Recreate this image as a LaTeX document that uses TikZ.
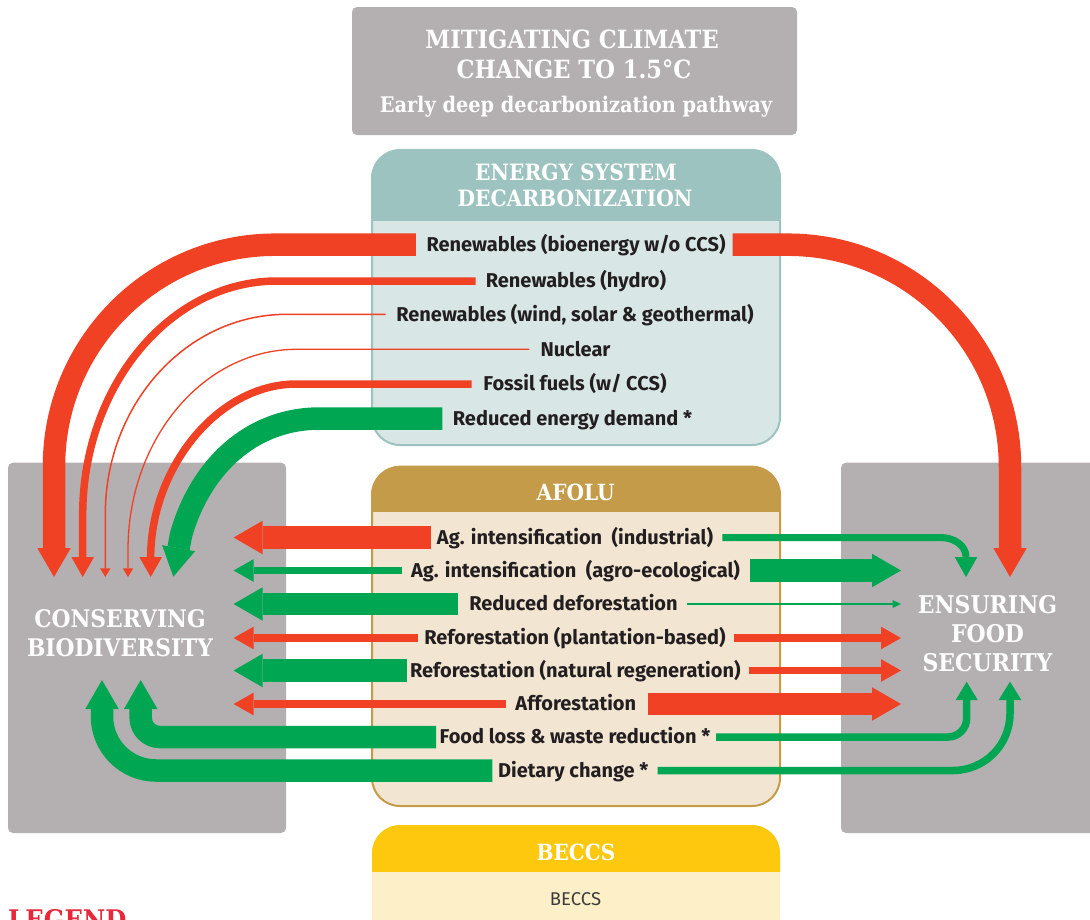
\documentclass[tikz,border=0pt]{standalone}
\usepackage{fontspec}
\usetikzlibrary{arrows.meta}
\newfontfamily\hdfont[FakeStretch=0.9]{DejaVu Serif}
\newfontfamily\lblfont{Fira Sans}
\definecolor{redc}{RGB}{240,65,36}
\definecolor{greenc}{RGB}{0,166,81}
\definecolor{grayc}{RGB}{180,176,177}
\definecolor{tealh}{RGB}{156,195,191}
\definecolor{tealb}{RGB}{216,230,229}
\definecolor{goldh}{RGB}{196,155,72}
\definecolor{goldb}{RGB}{242,230,211}
\definecolor{yelh}{RGB}{253,200,13}
\definecolor{yelb}{RGB}{253,239,199}
\definecolor{txt}{RGB}{35,31,32}
\definecolor{legred}{RGB}{230,40,58}
\tikzset{
  lbl/.style={font=\lblfont\bfseries\fontsize{20}{21}\selectfont, text=txt, inner sep=0pt, text height=13.8pt, text depth=0pt},
  hdr/.style={font=\hdfont\bfseries\fontsize{#1}{#1}\selectfont, text=white, inner sep=0pt, anchor=base},
  bigarrow/.style={line width=22.5pt, -{Triangle[length=29pt,width=33.5pt,line width=0pt]}},
  midarrow/.style={line width=7.5pt, -{Triangle[length=20pt,width=22.7pt,line width=0pt]}},
  tinyarrow/.style={line width=1.5pt, -{Triangle[length=8.7pt,width=10.5pt,line width=0pt]}},
}
\begin{document}
\begin{tikzpicture}[x=1pt,y=-1pt]
\useasboundingbox (0,0) rectangle (1090,919);
% ---------- boxes ----------
\fill[grayc, rounded corners=5pt] (352,7) rectangle (797,135);
\fill[grayc, rounded corners=5pt] (8,462.7) rectangle (286,833);
\fill[grayc, rounded corners=5pt] (841,462.7) rectangle (1110,833);
% energy
\fill[tealb, rounded corners=28pt] (372,150) rectangle (780,445);
\begin{scope}
\clip (360,140) rectangle (790,220);
\fill[tealh, rounded corners=28pt] (372,150) rectangle (780,445);
\end{scope}
\draw[tealh, line width=2pt, rounded corners=28pt] (372,150) rectangle (780,445);
% afolu
\fill[goldb, rounded corners=28pt] (372,466.7) rectangle (780,806);
\begin{scope}
\clip (360,455) rectangle (790,511.7);
\fill[goldh, rounded corners=28pt] (372,466.7) rectangle (780,806);
\end{scope}
\draw[goldh, line width=2pt, rounded corners=28pt] (372,466.7) rectangle (780,806);
% beccs
\fill[yelb, rounded corners=28pt] (372,825) rectangle (780,945);
\begin{scope}
\clip (360,815) rectangle (790,871.7);
\fill[yelh, rounded corners=28pt] (372,825) rectangle (780,945);
\end{scope}
% ---------- headers ----------
\node[hdr=25.1] (t1) at (572,48) {MITIGATING CLIMATE};
\node[hdr=25.1] (t2) at (574,78) {CHANGE TO 1.5°C};
\node[hdr=21.5] (t3) at (576,112) {Early deep decarbonization pathway};
\node[hdr=22.5] (h1) at (576,180) {ENERGY SYSTEM};
\node[hdr=22.5] (h2) at (575,206) {DECARBONIZATION};
\node[hdr=22.3] (h3) at (575.6,500.7) {AFOLU};
\node[hdr=22.3] (h4) at (576,860) {BECCS};
\node[inner sep=0pt, anchor=base, font=\lblfont\fontsize{18.5}{20}\selectfont, text={rgb,255:red,60;green,60;blue,60}] (bec) at (575.5,905) {BECCS};
\node[hdr=24.2] (cb1) at (120,627.7) {CONSERVING};
\node[hdr=24.2] (cb2) at (120,656.7) {BIODIVERSITY};
\node[hdr=24.4] (fs1) at (987.5,613) {ENSURING};
\node[hdr=24.4] (fs2) at (987.5,642.7) {FOOD};
\node[hdr=24.4] (fs3) at (987.5,671.7) {SECURITY};
\node[anchor=base west, inner sep=0pt, font=\hdfont\bfseries\fontsize{27}{27}\selectfont, text=legred] (leg) at (8,929.5) {LEGEND};
% ---------- energy rows ----------
\node[lbl] (e1) at (576,244.7) {Renewables (bioenergy w/o CCS)};
\node[lbl] (e2) at (576,281) {Renewables (hydro)};
\node[lbl] (e3) at (575,314.3) {Renewables (wind, solar \& geothermal)};
\node[lbl] (e4) at (575.5,349.3) {Nuclear};
\node[lbl] (e5) at (575,384) {Fossil fuels (w/ CCS)};
\node[lbl] (e6) at (572.5,418.5) {Reduced energy demand *};
% ---------- afolu rows ----------
\node[lbl] (a1) at (575,537.5) {Ag. intensification\ \ (industrial)};
\node[lbl] (a2) at (575.5,570.5) {Ag. intensification\ \ (agro-ecological)};
\node[lbl] (a3) at (573.5,604) {Reduced deforestation};
\node[lbl] (a4) at (575,638) {Reforestation (plantation-based)};
\node[lbl] (a5) at (575.3,670.5) {Reforestation (natural regeneration)};
\node[lbl] (a6) at (575.8,704) {Afforestation};
\node[lbl] (a7) at (575,737) {Food loss \& waste reduction *};
\node[lbl] (a8) at (573.3,770.5) {Dietary change *};
% ---------- arrow targets ----------
\coordinate (c1) at (54,577);
\coordinate (c2) at (82.7,577);
\coordinate (c3) at (105.3,577);
\coordinate (c4) at (128,577);
\coordinate (c5) at (150.7,577);
\coordinate (c6) at (173.3,576.7);
\coordinate (f0) at (1010,577);
\foreach \n/\y in {1/537.5,2/570.5,3/604,4/638,5/670.5,6/704}{
  \coordinate (l\n) at (233.6,\y);
  \coordinate (r\n) at (901,\y);
}
\coordinate (l7) at (140.7,680);
\coordinate (l8) at (102,680);
\coordinate (r1) at (966,577);
\coordinate (r7) at (966.7,681.7);
\coordinate (r8) at (1010,681.7);
% ---------- energy connectors ----------
\draw[redc, bigarrow] ([xshift=-10.5pt]e1.west) -- (275,244.7) .. controls (153,244.7) and (54,344) .. (54,466) -- (c1);
\draw[redc, bigarrow] ([xshift=7pt]e1.east) -- (788,244.7) .. controls (910.6,244.7) and (1010,344.4) .. (1010,467) -- (f0);
\draw[redc, midarrow] ([xshift=-10pt]e2.west) -- (277,281) .. controls (169.9,281) and (82.7,385.8) .. (82.7,515) -- (c2);
\draw[redc, tinyarrow] ([xshift=-10.5pt]e3.west) -- (286.7,314.3) .. controls (186.5,314.3) and (105.3,404) .. (105.3,514.3) -- (c3);
\draw[redc, tinyarrow, line width=1.3pt] ([xshift=-11pt]e4.west) -- (296.7,349.3) .. controls (203.5,349.3) and (128,439) .. (128,550) -- (c4);
\draw[redc, midarrow] ([xshift=-11.5pt]e5.west) -- (296.7,384) .. controls (216,384) and (150.7,470) .. (150.7,557) -- (c5);
\draw[greenc, bigarrow] ([xshift=-10.4pt]e6.west) -- (320,418.5) .. controls (250,418.5) and (200,468) .. (181,535) -- (c6);
% ---------- afolu connectors to biodiversity ----------
\draw[redc, bigarrow] ([xshift=-6pt]a1.west) -- (l1);
\draw[greenc, midarrow] ([xshift=-8.4pt]a2.west) -- (l2);
\draw[greenc, bigarrow] ([xshift=-11pt]a3.west) -- (l3);
\draw[redc, midarrow] ([xshift=-6pt]a4.west) -- (l4);
\draw[greenc, bigarrow] ([xshift=-3.3pt]a5.west) -- (l5);
\draw[redc, midarrow] ([xshift=-9pt]a6.west) -- (l6);
\draw[greenc, bigarrow] ([xshift=-3.3pt]a7.west) -- (160,737) .. controls (149.3,737) and (140.7,728.4) .. (140.7,717.7) -- (l7);
\draw[greenc, bigarrow] ([xshift=-5.6pt]a8.west) -- (156,770.5) .. controls (126.2,770.5) and (102,746.3) .. (102,716.5) -- (l8);
% ---------- afolu connectors to food security ----------
\draw[greenc, midarrow, line width=7pt] ([xshift=9pt]a1.east) -- (940,537.5) .. controls (955,537.5) and (966,546) .. (966,557) -- (r1);
\draw[greenc, bigarrow] ([xshift=9.4pt]a2.east) -- (r2);
\draw[greenc, tinyarrow, -{Triangle[length=8.4pt,width=8pt,line width=0pt]}] ([xshift=9pt]a3.east) -- (r3);
\draw[redc, midarrow] ([xshift=8pt]a4.east) -- (r4);
\draw[redc, midarrow] ([xshift=8.3pt]a5.east) -- (r5);
\draw[redc, bigarrow] ([xshift=11.6pt]a6.east) -- (r6);
\draw[greenc, midarrow, -{Triangle[length=18.3pt,width=22pt,line width=0pt]}] ([xshift=5.7pt]a7.east) -- (948,737) .. controls (958.4,737) and (966.7,728.6) .. (966.7,718) -- (r7);
\draw[greenc, midarrow, -{Triangle[length=18.3pt,width=22.7pt,line width=0pt]}] ([xshift=9pt]a8.east) -- (953,770.5) .. controls (984.5,770.5) and (1010,745) .. (1010,713.5) -- (r8);
\end{tikzpicture}
\end{document}
